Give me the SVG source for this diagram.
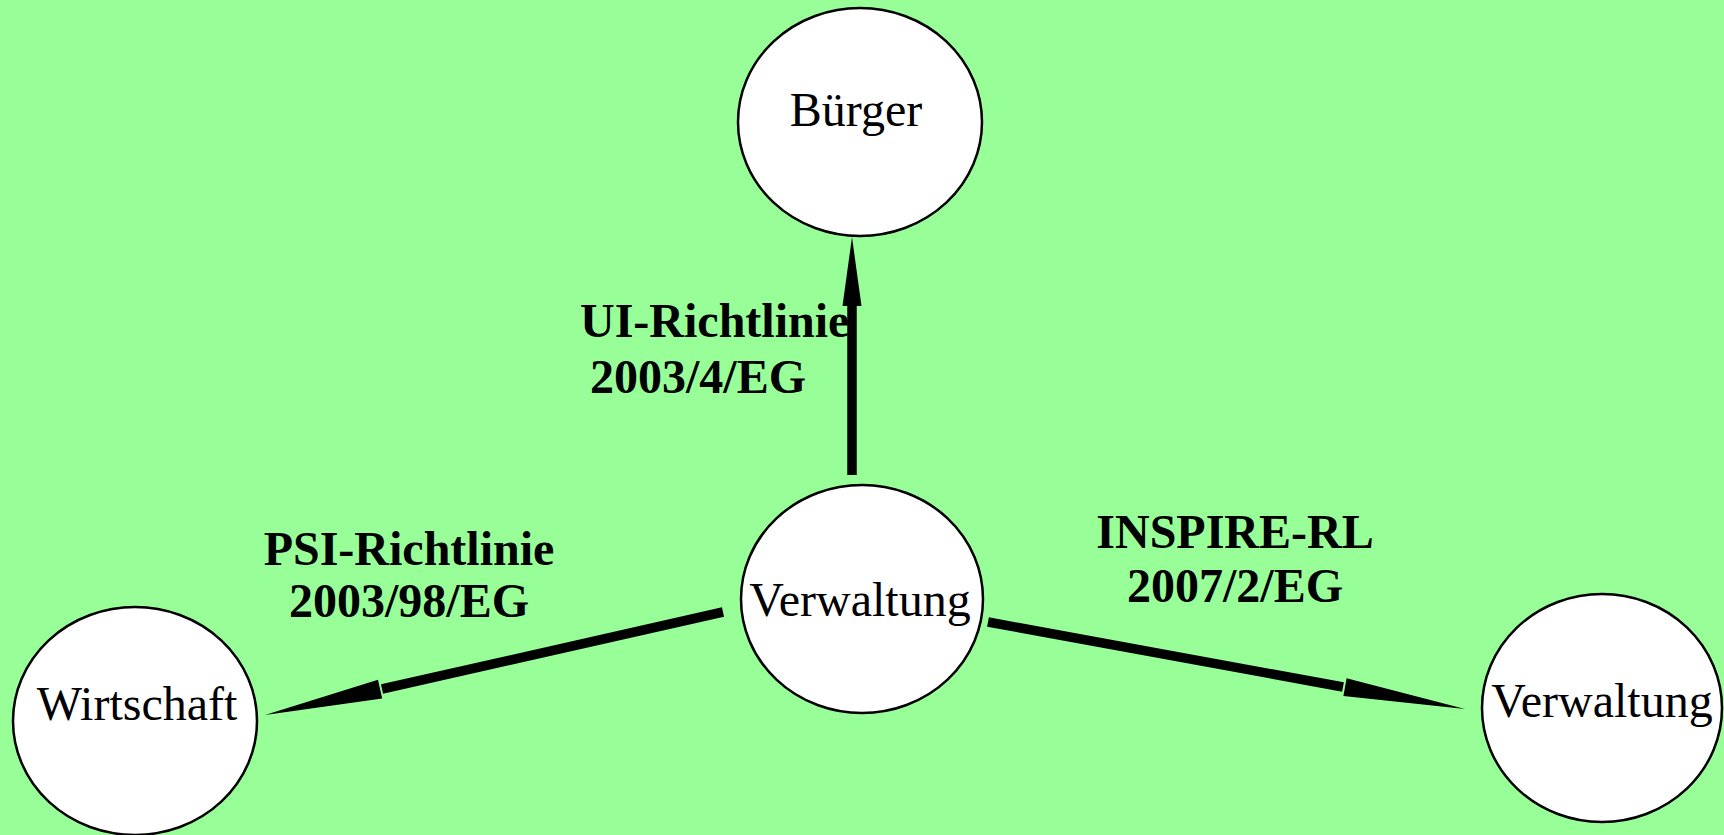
<svg xmlns="http://www.w3.org/2000/svg" width="1724" height="835" viewBox="0 0 1724 835">
<style>
.node{fill:#ffffff;stroke:#000000;stroke-width:2.5}
.nt{font-family:"Liberation Serif","Times New Roman",serif;font-size:48px;fill:#000000}
.lb{font-family:"Liberation Serif","Times New Roman",serif;font-size:48px;font-weight:bold;fill:#000000}
.edge{stroke:#000000;stroke-width:9.5;fill:none}
.head{fill:#000000;stroke:none}
</style>
<rect x="0" y="0" width="1724" height="835" fill="#98ff98"/>
<g id="connectors">
<line class="edge" x1="852" y1="475" x2="852" y2="300"/>
<polygon class="head" points="852,237 842.5,306 861.5,306"/>
<line class="edge" x1="723" y1="612" x2="382" y2="689"/>
<polygon class="head" points="265,715 382.2,698.4 378,679.8"/>
<line class="edge" x1="988" y1="622" x2="1343" y2="687"/>
<polygon class="head" points="1465,709 1343.4,696 1346.6,678.2"/>
<text class="lb" x="580" y="337">UI-Richtlinie</text>
<text class="lb" x="590" y="393">2003/4/EG</text>
<text class="lb" x="409" y="565" text-anchor="middle">PSI-Richtlinie</text>
<text class="lb" x="409" y="617" text-anchor="middle">2003/98/EG</text>
<text class="lb" x="1235" y="548" text-anchor="middle">INSPIRE-RL</text>
<text class="lb" x="1235" y="602" text-anchor="middle">2007/2/EG</text>
</g>
<g id="buerger">
<ellipse class="node" cx="860" cy="122" rx="122" ry="114"/>
<text class="nt" x="856" y="126" text-anchor="middle">Bürger</text>
</g>
<g id="verwaltung-center">
<ellipse class="node" cx="862" cy="599" rx="121" ry="114"/>
<text class="nt" x="860" y="616" text-anchor="middle">Verwaltung</text>
</g>
<g id="wirtschaft">
<ellipse class="node" cx="135" cy="721" rx="122" ry="114"/>
<text class="nt" x="137" y="720" text-anchor="middle">Wirtschaft</text>
</g>
<g id="verwaltung-right">
<ellipse class="node" cx="1602" cy="708" rx="120" ry="114"/>
<text class="nt" x="1602" y="717" text-anchor="middle">Verwaltung</text>
</g>
</svg>
